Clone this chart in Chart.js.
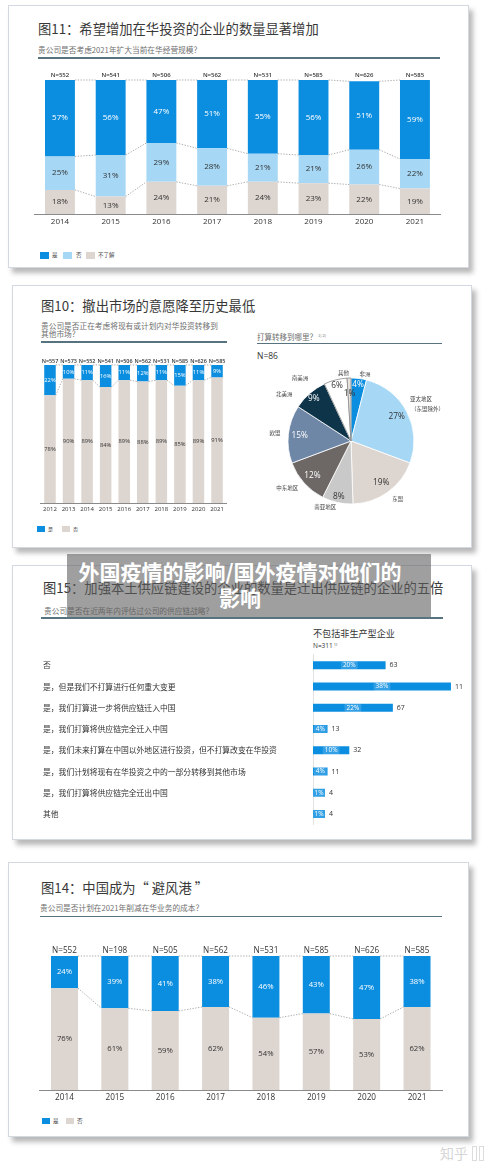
<!DOCTYPE html>
<html><head><meta charset="utf-8">
<script src="https://cdn.jsdelivr.net/npm/chart.js@4.4.1/dist/chart.umd.min.js"></script>
<style>
html,body{margin:0;padding:0;background:#fff;}
#page{position:relative;width:500px;height:1171px;overflow:hidden;font-family:"Noto Sans CJK SC","Noto Sans",sans-serif;}
.card{position:absolute;background:#fff;border:1px solid #d3d9e0;box-shadow:4px 5px 5px rgba(0,0,0,0.28);box-sizing:border-box;}
.t{position:absolute;white-space:nowrap;color:#3a3a3a;}
.title{font-size:13.3px;line-height:14px;color:#383838;}
.sub{font-size:7.7px;line-height:8px;color:#6f6f6f;}
.rule{position:absolute;height:1.5px;background:#56737f;}
.sq{position:absolute;}
.lg{position:absolute;font-size:5.5px;line-height:6px;color:#444;white-space:nowrap;}
canvas{position:absolute;}
#banner{position:absolute;left:67px;top:554px;width:364px;height:63px;background:rgba(95,95,95,0.6);z-index:10;}
#banner div{position:absolute;left:0;top:5px;width:346px;text-align:center;color:#fff;font-weight:700;font-size:21px;line-height:25.5px;white-space:nowrap;}
</style></head>
<body><div id="page">

<!-- Panel 1 : 图11 -->
<div class="card" style="left:8px;top:5px;width:461px;height:263px;"></div>
<div class="t title" style="left:38px;top:22px;">图11：希望增加在华投资的企业的数量显著增加</div>
<div class="t sub" style="left:38px;top:45.5px;">贵公司是否考虑2021年扩大当前在华经营规模？</div>
<div class="rule" style="left:38px;top:57px;width:402px;"></div>
<canvas id="c11" width="470" height="170" style="left:0;top:60px;"></canvas>
<div class="sq" style="left:40px;top:252px;width:9px;height:6.5px;background:#0c8ee0"></div>
<div class="lg" style="left:52px;top:252px;">是</div>
<div class="sq" style="left:63px;top:252px;width:9px;height:6.5px;background:#a6d8f6"></div>
<div class="lg" style="left:76px;top:252px;">否</div>
<div class="sq" style="left:86px;top:252px;width:9px;height:6.5px;background:#ddd5cf"></div>
<div class="lg" style="left:98px;top:252px;">不了解</div>

<!-- Panel 2 : 图10 -->
<div class="card" style="left:12px;top:285px;width:460px;height:263px;"></div>
<div class="t title" style="left:41px;top:299px;">图10：撤出市场的意愿降至历史最低</div>
<div class="t sub" style="left:41px;top:321.5px;line-height:8px;">贵公司是否正在考虑将现有或计划内对华投资转移到<br>其他市场？</div>
<div class="rule" style="left:41px;top:341px;width:186px;"></div>
<canvas id="c10" width="240" height="174" style="left:0;top:345px;"></canvas>
<div class="sq" style="left:37px;top:526px;width:8px;height:6px;background:#0c8ee0"></div>
<div class="lg" style="left:48px;top:526px;font-size:5px;">是</div>
<div class="sq" style="left:62px;top:526px;width:8px;height:6px;background:#ddd5cf"></div>
<div class="lg" style="left:73px;top:526px;font-size:5px;">否</div>

<div class="t sub" style="left:257px;top:331px;font-size:7.5px;">打算转移到哪里？<span style="font-size:4px;vertical-align:3px;margin-left:1px;">1) 2)</span></div>
<div class="rule" style="left:257px;top:342.5px;width:185px;"></div>
<div class="t" style="left:257px;top:351px;font-size:8.5px;line-height:10px;color:#333;font-family:'Open Sans',sans-serif;">N=86</div>
<canvas id="cpie" width="200" height="200" style="left:251px;top:341px;"></canvas>

<!-- Panel 3 : 图15 -->
<div class="card" style="left:12px;top:565px;width:460px;height:275px;"></div>
<div class="t title" style="left:43px;top:581px;">图15：加强本土供应链建设的企业的数量是迁出供应链的企业的五倍</div>
<div class="t sub" style="left:44px;top:606.5px;">贵公司是否在近两年内评估过公司的供应链战略？</div>
<div class="rule" style="left:41px;top:617px;width:402px;"></div>
<div class="t" style="left:313px;top:627.7px;font-size:9.1px;line-height:10px;color:#333;">不包括非生产型企业</div>
<div class="t" style="left:313px;top:640.5px;font-size:6.5px;line-height:7px;color:#333;font-family:'Open Sans',sans-serif;">N=311<span style="font-size:4px;vertical-align:2px;margin-left:1px;">1)</span></div>
<canvas id="c15" width="475" height="180" style="left:0;top:650px;"></canvas>
<div id="banner"><div>外国疫情的影响/国外疫情对他们的<br>影响</div></div>

<!-- Panel 4 : 图14 -->
<div class="card" style="left:8px;top:862px;width:461px;height:275px;"></div>
<div class="t title" style="left:41px;top:880.5px;">图14：中国成为“ 避风港 ”</div>
<div class="t sub" style="left:40px;top:904.3px;">贵公司是否计划在2021年削减在华业务的成本？</div>
<div class="rule" style="left:40px;top:915.5px;width:402px;"></div>
<canvas id="c14" width="470" height="170" style="left:0;top:936px;"></canvas>
<div class="sq" style="left:42px;top:1118px;width:8px;height:6px;background:#0c8ee0"></div>
<div class="lg" style="left:53px;top:1118px;">是</div>
<div class="sq" style="left:66px;top:1118px;width:8px;height:6px;background:#ddd5cf"></div>
<div class="lg" style="left:77px;top:1118px;">否</div>

<div class="t" style="left:440px;top:1145px;font-size:14px;line-height:16px;color:#d6d6d6;">知乎</div>
<div class="sq" style="left:472px;top:1146px;width:3px;height:13px;border:1px solid #dcdcdc;"></div>
<div class="sq" style="left:479px;top:1146px;width:3px;height:13px;border:1px solid #dcdcdc;"></div>

</div>
<script>
// ---------- DATA ----------
const YEARS_11 = ['2014','2015','2016','2017','2018','2019','2020','2021'];
const N_11 = ['N=552','N=541','N=506','N=562','N=531','N=585','N=626','N=585'];
const YES_11 = [57,56,47,51,55,56,51,59];
const NO_11 = [25,31,29,28,21,21,26,22];
const DK_11 = [18,13,24,21,24,23,22,19];

const YEARS_10 = ['2012','2013','2014','2015','2016','2017','2018','2019','2020','2021'];
const N_10 = ['N=557','N=573','N=552','N=541','N=506','N=562','N=531','N=585','N=626','N=585'];
const YES_10 = [22,10,11,16,11,12,11,15,11,9];
const NO_10 = [78,90,89,84,89,88,89,85,89,91];

const REGIONS = ['非洲','亚太地区\n（东盟除外）','东盟','南亚地区','中东地区','欧盟','北美洲','南美洲','其他'];
const REGION_PCT = [4,27,19,8,12,15,9,6,1];

const SUPPLY_CATS = ['否','是，但是我们不打算进行任何重大变更','是，我们打算进一步将供应链迁入中国','是，我们打算将供应链完全迁入中国','是，我们未来打算在中国以外地区进行投资，但不打算改变在华投资','是，我们计划将现有在华投资之中的一部分转移到其他市场','是，我们打算将供应链完全迁出中国','其他'];
const SUPPLY_PCT = [20,38,22,4,10,4,1,1];
const SUPPLY_COUNT = ['63','11','67','13','32','11','4','4'];

const YEARS_14 = ['2014','2015','2016','2017','2018','2019','2020','2021'];
const N_14 = ['N=552','N=198','N=505','N=562','N=531','N=585','N=626','N=585'];
const YES_14 = [24,39,41,38,46,43,47,38];
const NO_14 = [76,61,59,62,54,57,53,62];

// ---------- STYLE ----------
const FONT_NUM = '"Open Sans","Noto Sans CJK SC",sans-serif';
const FONT_CJK = '"Noto Sans CJK SC","Noto Sans",sans-serif';
const BLUE = '#0c8ee0', LIGHT = '#a6d8f6', BEIGE = '#ddd5cf';
const PIE_COLORS = [BLUE, LIGHT, BEIGE, '#c9c9c9', '#6d6866', '#6f87a7', '#0e3449', '#ffffff', '#e6e2de'];
const PIE_BORDERS = ['#fff','#fff','#fff','#fff','#fff','#fff','#fff','#8a8a8a','#8a8a8a'];
const PIE_TEXT = ['#fff','#333','#333','#333','#fff','#fff','#fff','#333','#333'];
const PIE_LABEL_NUDGE = {'北美洲':[-12,6],'南美洲':[-26,3],'亚太地区\n（东盟除外）':[-4,-4]};

function stackDeco(o){
  return {id:'deco', afterDatasetsDraw(chart){
    const ctx = chart.ctx, n = chart.data.datasets.length;
    const metas = [];
    for (let d=0; d<n; d++) metas.push(chart.getDatasetMeta(d).data.map(e=>e.getProps(['x','y','base','width'],true)));
    ctx.save();
    ctx.setLineDash([1.4,1.4]); ctx.strokeStyle='#8e8e8e'; ctx.lineWidth=0.7;
    metas.forEach(els=>{
      for (let i=0;i<els.length-1;i++){
        const a=els[i], b=els[i+1];
        ctx.beginPath(); ctx.moveTo(a.x+a.width/2,a.y); ctx.lineTo(b.x-b.width/2,b.y); ctx.stroke();
      }
    });
    ctx.setLineDash([]);
    ctx.textAlign='center'; ctx.textBaseline='middle';
    ctx.font = o.pctSize+'px '+FONT_NUM;
    metas.forEach((els,d)=>{
      ctx.fillStyle=o.pctColors[d];
      els.forEach((e,i)=>ctx.fillText(chart.data.datasets[d].data[i]+'%', e.x, (e.y+e.base)/2));
    });
    ctx.font = o.nWeight+' '+o.nSize+'px '+FONT_NUM; ctx.fillStyle='#333';
    const top = chart.chartArea.top, last = metas[n-1];
    o.nLabels.forEach((t,i)=>ctx.fillText(t, last[i].x, top-o.nGap));
    ctx.restore();
  }};
}

function stacked(id, o){
  return new Chart(document.getElementById(id), {
    type:'bar',
    data:{labels:o.labels, datasets:o.series.map(s=>({label:s.label,data:s.data,backgroundColor:s.color,borderWidth:0,barPercentage:o.barPct,categoryPercentage:1}))},
    options:{
      responsive:false, animation:false, devicePixelRatio:1,
      layout:{padding:{left:o.padL,right:o.padR,top:o.padT,bottom:0}},
      plugins:{legend:{display:false},tooltip:{enabled:false}},
      scales:{
        x:{stacked:true, grid:{display:false,drawTicks:false}, border:{display:true,color:'#8a8a8a',width:1},
           ticks:{font:{size:o.tickSize,family:FONT_NUM},color:'#333',padding:3,maxRotation:0,autoSkip:false},
           afterFit:s=>{s.height=o.axisH;}},
        y:{stacked:true, display:false, min:0, max:100}
      }
    },
    plugins:[stackDeco(o)]
  });
}

stacked('c11', {labels:YEARS_11, padL:34.6, padR:29.7, padT:20, axisH:16, barPct:0.59, tickSize:8,
  series:[{label:'不了解',data:DK_11,color:BEIGE},{label:'否',data:NO_11,color:LIGHT},{label:'是',data:YES_11,color:BLUE}],
  pctColors:['#333','#333','#fff'], pctSize:8, nLabels:N_11, nSize:6, nWeight:'600', nGap:5});

stacked('c10', {labels:YEARS_10, padL:40.7, padR:13.7, padT:20, axisH:16, barPct:0.62, tickSize:6,
  series:[{label:'否',data:NO_10,color:BEIGE},{label:'是',data:YES_10,color:BLUE}],
  pctColors:['#333','#fff'], pctSize:5.8, nLabels:N_10, nSize:5.4, nWeight:'600', nGap:4});

stacked('c14', {labels:YEARS_14, padL:39.3, padR:27.8, padT:20, axisH:16, barPct:0.536, tickSize:8.2,
  series:[{label:'否',data:NO_14,color:BEIGE},{label:'是',data:YES_14,color:BLUE}],
  pctColors:['#333','#fff'], pctSize:7.7, nLabels:N_14, nSize:8.2, nWeight:'400', nGap:5});

// ---------- PIE ----------
const pieLabels = {id:'pieLabels', afterDatasetsDraw(chart){
  const ctx=chart.ctx; const meta=chart.getDatasetMeta(0);
  ctx.save();
  meta.data.forEach((el,i)=>{
    const p = el.getProps(['x','y','startAngle','endAngle','outerRadius'],true);
    const mid=(p.startAngle+p.endAngle)/2, c=Math.cos(mid), s=Math.sin(mid);
    const v = REGION_PCT[i];
    const f = v<=1 ? 0.76 : (v<10 ? 0.9 : 0.82);
    ctx.font='8.3px '+FONT_NUM; ctx.fillStyle=PIE_TEXT[i]; ctx.textAlign='center'; ctx.textBaseline='middle';
    ctx.fillText(v+'%', p.x+c*p.outerRadius*f, p.y+s*p.outerRadius*f);
    const R = p.outerRadius + (Math.abs(c)<0.3 ? 5 : 8);
    const nudge = PIE_LABEL_NUDGE[REGIONS[i]] || [0,0];
    let x=p.x+c*R+nudge[0], y=p.y+s*R+nudge[1];
    ctx.textAlign = c>0.02 ? 'left' : (c<-0.02 ? 'right' : 'center');
    ctx.font='5.5px '+FONT_CJK; ctx.fillStyle='#444';
    const lines = REGIONS[i].split('\n');
    const lh=10; y -= (lines.length-1)*lh/2;
    lines.forEach((ln,k)=>ctx.fillText(ln, x + (k>0?1:0), y+k*lh));
  });
  ctx.restore();
}};
new Chart(document.getElementById('cpie'), {
  type:'pie',
  data:{labels:REGIONS, datasets:[{data:REGION_PCT, backgroundColor:PIE_COLORS, borderColor:PIE_BORDERS, borderWidth:0.8}]},
  options:{responsive:false, animation:false, devicePixelRatio:1, radius:63, layout:{padding:0},
    plugins:{legend:{display:false},tooltip:{enabled:false}}},
  plugins:[pieLabels]
});

// ---------- HORIZONTAL BAR ----------
const hLabels = {id:'hLabels', afterDatasetsDraw(chart){
  const ctx=chart.ctx; const meta=chart.getDatasetMeta(0);
  ctx.save(); ctx.textBaseline='middle';
  meta.data.forEach((el,i)=>{
    const p=el.getProps(['x','y','base','height'],true);
    const cx=(p.x+p.base)/2;
    ctx.font='6.5px '+FONT_NUM;
    const t=SUPPLY_PCT[i]+'%'; const w=ctx.measureText(t).width;
    ctx.fillStyle='rgba(255,255,255,0.16)';
    ctx.beginPath(); if (ctx.roundRect) ctx.roundRect(cx-w/2-2, p.y-4.5, w+4, 9, 2); else ctx.rect(cx-w/2-2, p.y-4.5, w+4, 9); ctx.fill();
    ctx.fillStyle='#fff'; ctx.textAlign='center';
    ctx.fillText(t, cx, p.y);
    ctx.font='7px '+FONT_NUM; ctx.fillStyle='#333'; ctx.textAlign='left';
    ctx.fillText(SUPPLY_COUNT[i], p.x+4, p.y);
  });
  ctx.restore();
}};
new Chart(document.getElementById('c15'), {
  type:'bar',
  data:{labels:SUPPLY_CATS, datasets:[{data:SUPPLY_PCT, backgroundColor:BLUE, borderWidth:0, minBarLength:12, barPercentage:0.375, categoryPercentage:1}]},
  options:{indexAxis:'y', responsive:false, animation:false, devicePixelRatio:1,
    layout:{padding:{left:43,right:16.8,top:4.4,bottom:5.3}},
    plugins:{legend:{display:false},tooltip:{enabled:false}},
    scales:{
      x:{display:false, min:0, max:40},
      y:{grid:{display:false,drawTicks:false}, border:{display:true,color:'#e2e2e2',width:1},
         ticks:{crossAlign:'far', font:{size:7.8,family:FONT_CJK}, color:'#333', padding:0, autoSkip:false},
         afterFit:s=>{s.width=270;}}
    }
  },
  plugins:[hLabels]
});
</script>
</body></html>
